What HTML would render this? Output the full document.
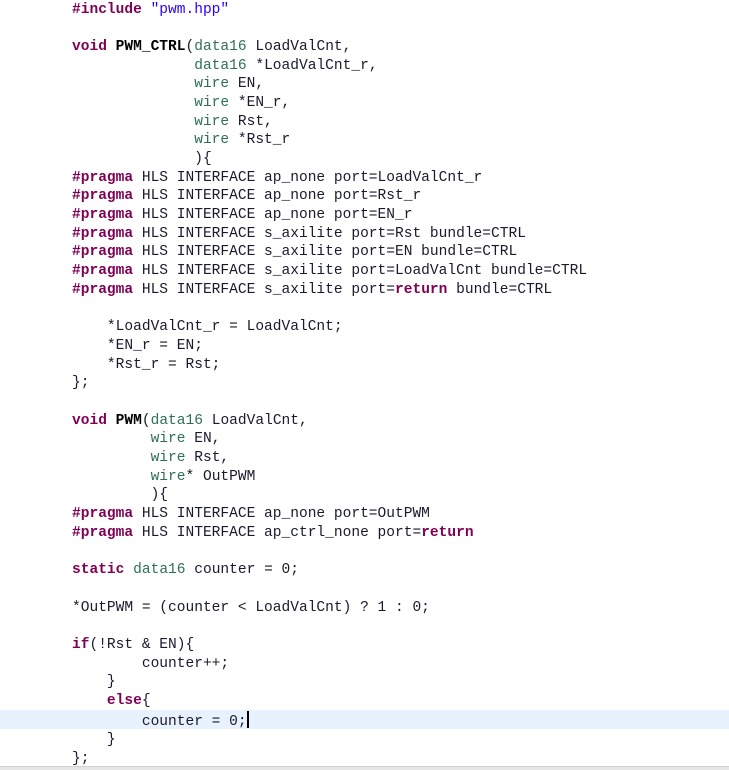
<!DOCTYPE html>
<html><head><meta charset="utf-8"><style>
html,body{margin:0;padding:0;background:#fff;width:729px;height:770px;overflow:hidden;position:relative}
pre{margin:0;position:absolute;left:72px;top:0.5px;font-family:"Liberation Mono",monospace;font-size:14.55px;line-height:18.68px;color:#1a1a2e;letter-spacing:0}
.k{color:#7f0055;font-weight:bold}
.s{color:#2a00ff}
.t{color:#2f6f5a}
.b{font-weight:bold;color:#000}
#hl{position:absolute;left:0;top:710px;width:729px;height:19px;background:#e8f2fe}
#bot{position:absolute;left:0;top:766px;width:729px;height:4px;background:#e6e6e6;border-top:1px solid #d0d0d0}
.cur{display:inline-block;width:2px;height:17px;background:#000;vertical-align:-3px}
</style></head><body>
<div id="hl"></div>
<pre><span class="k">#include</span> <span class="s">"pwm.hpp"</span>

<span class="k">void</span> <span class="b">PWM_CTRL</span>(<span class="t">data16</span> LoadValCnt,
              <span class="t">data16</span> *LoadValCnt_r,
              <span class="t">wire</span> EN,
              <span class="t">wire</span> *EN_r,
              <span class="t">wire</span> Rst,
              <span class="t">wire</span> *Rst_r
              ){
<span class="k">#pragma</span> HLS INTERFACE ap_none port=LoadValCnt_r
<span class="k">#pragma</span> HLS INTERFACE ap_none port=Rst_r
<span class="k">#pragma</span> HLS INTERFACE ap_none port=EN_r
<span class="k">#pragma</span> HLS INTERFACE s_axilite port=Rst bundle=CTRL
<span class="k">#pragma</span> HLS INTERFACE s_axilite port=EN bundle=CTRL
<span class="k">#pragma</span> HLS INTERFACE s_axilite port=LoadValCnt bundle=CTRL
<span class="k">#pragma</span> HLS INTERFACE s_axilite port=<span class="k">return</span> bundle=CTRL

    *LoadValCnt_r = LoadValCnt;
    *EN_r = EN;
    *Rst_r = Rst;
};

<span class="k">void</span> <span class="b">PWM</span>(<span class="t">data16</span> LoadValCnt,
         <span class="t">wire</span> EN,
         <span class="t">wire</span> Rst,
         <span class="t">wire</span>* OutPWM
         ){
<span class="k">#pragma</span> HLS INTERFACE ap_none port=OutPWM
<span class="k">#pragma</span> HLS INTERFACE ap_ctrl_none port=<span class="k">return</span>

<span class="k">static</span> <span class="t">data16</span> counter = 0;

*OutPWM = (counter &lt; LoadValCnt) ? 1 : 0;

<span class="k">if</span>(!Rst &amp; EN){
        counter++;
    }
    <span class="k">else</span>{
        counter = 0;<span class="cur"></span>
    }
};</pre>
<div id="bot"></div>
</body></html>
